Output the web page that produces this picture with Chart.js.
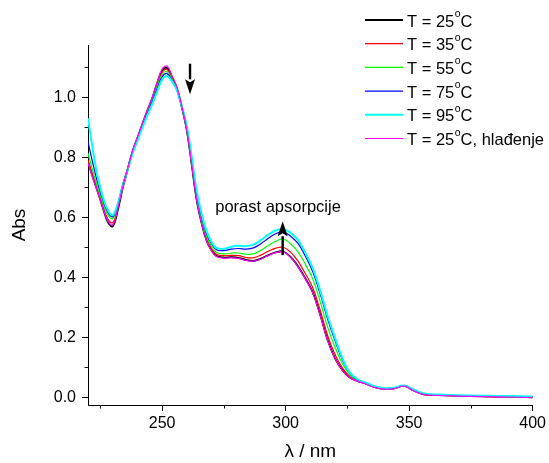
<!DOCTYPE html>
<html>
<head>
<meta charset="utf-8">
<script src="https://cdn.jsdelivr.net/npm/chart.js@4/dist/chart.umd.min.js"></script>
<style>
  body { margin: 0; background: #fff; }
  #wrap { width: 549px; height: 463px; }
</style>
</head>
<body>
<div id="wrap"><canvas id="spectra" width="549" height="463"></canvas></div>
<script>
// wavelength grid (nm)
const wavelengths = [220, 222, 224, 226, 228, 230, 232, 234, 236, 238, 240, 242, 244, 246, 248, 250, 252, 254, 256, 258,
  260, 262, 264, 266, 268, 270, 272, 275, 278, 281, 284, 287, 290, 293, 296, 299, 302, 305, 308, 311,
  314, 317, 320, 323, 326, 329, 332, 336, 340, 344, 348, 352, 356, 362, 370, 380, 390, 400];

const absT25 = [0.785, 0.733, 0.684, 0.632, 0.585, 0.570, 0.622, 0.696, 0.757, 0.818, 0.864, 0.910, 0.955, 0.996, 1.046, 1.088, 1.098, 1.066, 1.029, 0.966,
  0.890, 0.775, 0.657, 0.580, 0.523, 0.490, 0.471, 0.466, 0.467, 0.465, 0.458, 0.455, 0.462, 0.474, 0.483, 0.486, 0.468, 0.437, 0.396, 0.350,
  0.275, 0.191, 0.130, 0.090, 0.066, 0.055, 0.047, 0.034, 0.028, 0.030, 0.038, 0.022, 0.010, 0.007, 0.005, 0.003, 0.002, 0.000];
const absT35 = [0.790, 0.738, 0.689, 0.637, 0.595, 0.582, 0.630, 0.701, 0.760, 0.819, 0.864, 0.909, 0.953, 0.993, 1.042, 1.083, 1.093, 1.063, 1.027, 0.966,
  0.892, 0.779, 0.662, 0.586, 0.529, 0.496, 0.477, 0.472, 0.473, 0.472, 0.466, 0.465, 0.474, 0.487, 0.497, 0.500, 0.484, 0.454, 0.412, 0.365,
  0.290, 0.206, 0.143, 0.098, 0.069, 0.056, 0.047, 0.034, 0.028, 0.030, 0.038, 0.022, 0.010, 0.007, 0.005, 0.003, 0.002, 0.000];
const absT55 = [0.813, 0.753, 0.697, 0.648, 0.608, 0.596, 0.640, 0.707, 0.762, 0.820, 0.863, 0.907, 0.950, 0.989, 1.036, 1.076, 1.086, 1.059, 1.025, 0.966,
  0.895, 0.785, 0.670, 0.594, 0.537, 0.503, 0.483, 0.478, 0.481, 0.481, 0.477, 0.478, 0.490, 0.506, 0.520, 0.527, 0.512, 0.485, 0.443, 0.394,
  0.319, 0.234, 0.167, 0.112, 0.075, 0.058, 0.048, 0.035, 0.029, 0.031, 0.038, 0.023, 0.011, 0.007, 0.005, 0.004, 0.002, 0.001];
const absT75 = [0.852, 0.778, 0.712, 0.658, 0.617, 0.602, 0.643, 0.707, 0.761, 0.818, 0.861, 0.904, 0.946, 0.984, 1.029, 1.068, 1.079, 1.055, 1.023, 0.967,
  0.898, 0.792, 0.679, 0.603, 0.546, 0.512, 0.492, 0.489, 0.494, 0.496, 0.494, 0.498, 0.512, 0.530, 0.545, 0.551, 0.537, 0.513, 0.470, 0.418,
  0.345, 0.261, 0.189, 0.125, 0.080, 0.060, 0.049, 0.036, 0.030, 0.032, 0.038, 0.024, 0.012, 0.008, 0.006, 0.004, 0.003, 0.002];
const absT95 = [0.930, 0.823, 0.732, 0.668, 0.624, 0.607, 0.644, 0.703, 0.756, 0.812, 0.855, 0.898, 0.940, 0.977, 1.020, 1.059, 1.071, 1.053, 1.023, 0.970,
  0.904, 0.801, 0.689, 0.611, 0.554, 0.518, 0.498, 0.495, 0.502, 0.505, 0.504, 0.509, 0.524, 0.542, 0.556, 0.561, 0.548, 0.524, 0.481, 0.430,
  0.355, 0.271, 0.198, 0.130, 0.082, 0.061, 0.050, 0.037, 0.030, 0.032, 0.039, 0.025, 0.013, 0.009, 0.007, 0.005, 0.004, 0.003];
const absCooled = [0.780, 0.729, 0.681, 0.631, 0.588, 0.575, 0.627, 0.700, 0.760, 0.821, 0.867, 0.913, 0.958, 1.000, 1.051, 1.094, 1.104, 1.072, 1.034, 0.969,
  0.891, 0.776, 0.657, 0.579, 0.521, 0.488, 0.469, 0.464, 0.465, 0.463, 0.456, 0.454, 0.461, 0.473, 0.482, 0.485, 0.467, 0.435, 0.394, 0.348,
  0.273, 0.189, 0.129, 0.089, 0.065, 0.054, 0.046, 0.033, 0.027, 0.029, 0.037, 0.021, 0.009, 0.006, 0.004, 0.002, 0.001, -0.001];

const seriesLabels = ['T = 25°C', 'T = 35°C', 'T = 55°C', 'T = 75°C', 'T = 95°C', 'T = 25°C, hlađenje'];
const seriesValues = [absT25, absT35, absT55, absT75, absT95, absCooled];
const seriesColors = ['#000000', '#ff0000', '#00ff00', '#0000ff', '#00ffff', '#ff00ff'];
const seriesWidths = [1.8, 1.2, 1.2, 1.2, 2, 1.2];

const xTicks = [250, 300, 350, 400];
const xMinorTicks = [225, 275, 325, 375];
const yTicks = [0, 0.2, 0.4, 0.6, 0.8, 1.0];
const yMinorTicks = [0.1, 0.3, 0.5, 0.7, 0.9, 1.1];

// annotations, in data units
const noteText = 'porast apsorpcije';
const notePos = { x: 271.5, y: 0.634 };
const downArrow = { x: 261.3, from: 1.112, to: 1.010 };
const upArrow = { x: 298.8, from: 0.474, to: 0.587 };

const FONT = '"Liberation Sans", Arial, sans-serif';

function drawArrow(ctx, x, y0, y1) {
  const dir = y1 > y0 ? 1 : -1;
  const headLen = 15, headHalf = 5;
  ctx.beginPath();
  ctx.moveTo(x, y0);
  ctx.lineTo(x, y1 - dir * headLen);
  ctx.lineWidth = 2.4;
  ctx.stroke();
  ctx.beginPath();
  ctx.moveTo(x, y1);
  ctx.lineTo(x - headHalf, y1 - dir * headLen);
  ctx.lineTo(x, y1 - dir * (headLen - 3));
  ctx.lineTo(x + headHalf, y1 - dir * headLen);
  ctx.closePath();
  ctx.fill();
}

const extras = {
  id: 'extras',
  afterDraw(chart) {
    const { ctx, scales: { x, y } } = chart;
    ctx.save();
    ctx.strokeStyle = '#000';
    ctx.fillStyle = '#000';
    ctx.lineWidth = 1;

    // minor ticks
    xMinorTicks.forEach(v => {
      const px = Math.round(x.getPixelForValue(v)) + 0.5;
      ctx.beginPath();
      ctx.moveTo(px, x.top);
      ctx.lineTo(px, x.top + 3.5);
      ctx.stroke();
    });
    yMinorTicks.forEach(v => {
      const py = Math.round(y.getPixelForValue(v)) + 0.5;
      ctx.beginPath();
      ctx.moveTo(y.right, py);
      ctx.lineTo(y.right - 3.5, py);
      ctx.stroke();
    });

    drawArrow(ctx, x.getPixelForValue(downArrow.x), y.getPixelForValue(downArrow.from), y.getPixelForValue(downArrow.to));
    drawArrow(ctx, x.getPixelForValue(upArrow.x), y.getPixelForValue(upArrow.from), y.getPixelForValue(upArrow.to));

    ctx.font = '16.5px ' + FONT;
    ctx.textBaseline = 'middle';
    ctx.textAlign = 'left';
    ctx.fillText(noteText, x.getPixelForValue(notePos.x), y.getPixelForValue(notePos.y));

    // legend with superscript "o"
    ctx.textBaseline = 'alphabetic';
    seriesLabels.forEach((label, i) => {
      const ly = 20 + i * 23.7;
      ctx.strokeStyle = seriesColors[i];
      ctx.lineWidth = seriesWidths[i];
      ctx.beginPath();
      ctx.moveTo(365, ly);
      ctx.lineTo(403, ly);
      ctx.stroke();

      const [head, tail] = label.split('°');
      let tx = 407;
      ctx.fillStyle = '#000';
      ctx.font = '16.5px ' + FONT;
      ctx.fillText(head, tx, ly + 6.5);
      tx += ctx.measureText(head).width + 0.5;
      ctx.font = '10.5px ' + FONT;
      ctx.fillText('o', tx, ly - 3);
      tx += ctx.measureText('o').width;
      ctx.font = '16.5px ' + FONT;
      ctx.fillText(tail, tx, ly + 6.5);
    });
    ctx.restore();
  }
};

const datasets = seriesLabels.map((label, i) => ({
  label,
  data: wavelengths.map((w, j) => ({ x: w, y: seriesValues[i][j] })),
  borderColor: seriesColors[i],
  borderWidth: seriesWidths[i],
  pointRadius: 0,
  fill: false,
  tension: 0.4,
  order: seriesLabels.length - i
}));

new Chart(document.getElementById('spectra'), {
  type: 'line',
  data: { datasets },
  options: {
    responsive: false,
    animation: false,
    devicePixelRatio: 1,
    layout: { padding: { top: 45, right: 14, left: 0, bottom: 0 } },
    plugins: { legend: { display: false }, tooltip: { enabled: false } },
    scales: {
      x: {
        type: 'linear',
        min: 220,
        max: 400,
        afterBuildTicks: axis => { axis.ticks = xTicks.map(v => ({ value: v })); },
        afterFit: axis => { axis.height = 58; },
        grid: { drawOnChartArea: false, drawTicks: true, tickLength: 6, color: '#000', tickColor: '#000' },
        border: { display: true, color: '#000', width: 1 },
        ticks: { color: '#000', font: { size: 16, family: FONT }, padding: 3, maxRotation: 0, callback: v => v },
        title: { display: true, text: 'λ / nm', color: '#000', font: { size: 19, family: FONT }, padding: 0 }
      },
      y: {
        type: 'linear',
        min: -0.0257,
        max: 1.1743,
        afterBuildTicks: axis => { axis.ticks = yTicks.map(v => ({ value: v })); },
        afterFit: axis => { axis.width = 88; },
        grid: { drawOnChartArea: false, drawTicks: true, tickLength: 6, color: '#000', tickColor: '#000' },
        border: { display: true, color: '#000', width: 1 },
        ticks: { color: '#000', font: { size: 16, family: FONT }, padding: 6, callback: v => v.toFixed(1) },
        title: { display: true, text: 'Abs', color: '#000', font: { size: 19, family: FONT }, padding: { top: 8 } }
      }
    }
  },
  plugins: [extras]
});
</script>
</body>
</html>
